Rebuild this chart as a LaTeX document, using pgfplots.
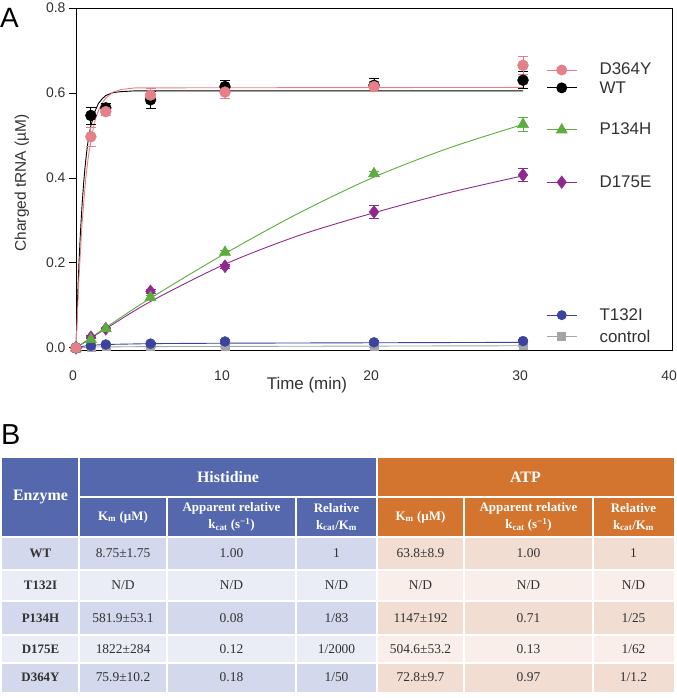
\documentclass[border=0pt]{standalone}
\usepackage{fontspec}
\setmainfont{Liberation Sans}
\newfontfamily\tnr{Liberation Serif}
\usepackage{pgfplots}
\pgfplotsset{compat=1.18}
\definecolor{cpink}{RGB}{229,128,138}
\definecolor{cgreen}{RGB}{92,172,62}
\definecolor{cpurple}{RGB}{142,42,142}
\definecolor{cblue}{RGB}{58,68,158}
\definecolor{cgray}{RGB}{165,165,165}
\definecolor{hblue}{RGB}{85,104,174}
\definecolor{horange}{RGB}{211,117,47}
\definecolor{bD}{RGB}{212,216,236}
\definecolor{bL}{RGB}{234,236,246}
\definecolor{oD}{RGB}{242,221,211}
\definecolor{oL}{RGB}{249,238,234}
\definecolor{tgray}{RGB}{50,50,50}
\pgfplotsset{
  dat/.style={only marks, color=#1, mark options={solid, fill=#1, draw=#1},
    error bars/y dir=both, error bars/y explicit,
    error bars/error bar style={line width=0.9bp, color=#1},
    error bars/error mark options={line width=0.9bp, mark size=5bp, color=#1, rotate=90}},
  fit/.style={no markers, line width=0.9bp, color=#1},
  leg/.style={line width=0.9bp, color=#1, mark indices={2}, mark options={solid, fill=#1, draw=#1}},
}
\newcommand\legf{\fontsize{17}{19}\selectfont}
\newcommand\thf{\tnr\bfseries\color{white}\fontsize{13}{17}\selectfont}
\newcommand\tdf{\tnr\color{tgray}\fontsize{13.5}{16}\selectfont}
\newcommand\tef{\tnr\bfseries\color{tgray}\fontsize{13}{16}\selectfont}
\begin{document}
\begin{tikzpicture}[x=1bp,y=1bp]
\path[use as bounding box] (0,0) rectangle (677,698);
\begin{axis}[
  at={(76bp,348bp)}, anchor=south west,
  width=596bp, height=342bp, scale only axis,
  xmin=0, xmax=40, ymin=-0.005, ymax=0.8,
  xtick={0,10,20,30,40}, ytick={0,0.2,0.4,0.6,0.8},
  ytick pos=left, tick align=outside, major tick length=7bp,
  xtick style={draw=none},
  axis line style={line width=0.9bp},
  tick style={line width=0.8bp, black},
  /pgf/number format/assume math mode=true,
  yticklabel style={/pgf/number format/fixed, /pgf/number format/fixed zerofill,
    /pgf/number format/precision=1},
  xticklabel style={yshift=-10bp, xshift=-3bp},
  tick label style={font=\fontsize{14}{16}\selectfont, color=tgray},
  clip=false,
]
% fitted curves
\addplot[fit=cgray] coordinates {(0,0)(1,0.002)(5,0.003)(30,0.005)};
\addplot[fit=cblue] coordinates {(0,0)(0.5,0.004)(1,0.006)(2,0.008)(5,0.01)(10,0.011)(20,0.012)(30,0.013)};
\addplot[fit=cpurple, smooth] coordinates {(0,0)(1,0.023)(2,0.045)(5,0.109)(10,0.197)(15,0.265)(20,0.318)(25,0.365)(30,0.405)};
\addplot[fit=cgreen, smooth] coordinates {(0,0)(1,0.024)(2,0.048)(5,0.117)(10,0.222)(15,0.318)(20,0.402)(25,0.47)(30,0.526)};
\addplot[fit=black] coordinates {(0,0)(0.1,0.111)(0.2,0.2)(0.3,0.273)(0.4,0.332)(0.5,0.382)(0.6,0.423)(0.7,0.456)(0.8,0.484)(0.9,0.505)(1,0.523)(1.25,0.555)(1.5,0.575)(1.75,0.586)(2,0.594)(2.5,0.601)(3,0.603)(4,0.605)(30,0.605)};
\addplot[fit=cpink] coordinates {(0,0)(0.2,0.167)(0.4,0.289)(0.6,0.378)(0.7,0.412)(0.8,0.442)(0.9,0.467)(1,0.489)(1.25,0.532)(1.5,0.558)(1.75,0.576)(2,0.588)(2.5,0.602)(3,0.608)(4,0.612)(30,0.613)};
% data
\addplot[dat=cgray, mark=square*, mark size=4bp] table[x=t, y=v, y error=e] {
t v e
0 0 0
1 0.002 0.003
2 0.003 0.003
5 0.003 0.003
10 0.004 0.003
20 0.004 0.003
30 0.006 0.003
};
\addplot[dat=cblue, mark=*, mark size=5bp] table[x=t, y=v, y error=e] {
t v e
0 0 0
1 0.005 0.003
2 0.008 0.003
5 0.01 0.003
10 0.015 0.004
20 0.013 0.004
30 0.016 0.004
};
\addplot[dat=cpurple, mark=diamond*, mark size=6.5bp] table[x=t, y=v, y error=e] {
t v e
0 0 0
1 0.025 0.004
2 0.045 0.004
5 0.133 0.005
10 0.192 0.005
20 0.32 0.015
30 0.407 0.015
};
\addplot[dat=cgreen, mark=triangle*, mark size=6.5bp] table[x=t, y=v, y error=e] {
t v e
0 0 0
1 0.02 0.004
2 0.045 0.004
5 0.119 0.005
10 0.225 0.005
20 0.41 0.006
30 0.526 0.017
};
\addplot[dat=black, mark=*, mark size=5.5bp] table[x=t, y=v, y error=e] {
t v e
0 0 0
1 0.547 0.02
2 0.565 0.01
5 0.584 0.02
10 0.615 0.015
20 0.618 0.015
30 0.63 0.02
};
\addplot[dat=cpink, mark=*, mark size=5.5bp] table[x=t, y=v, y error=e] {
t v e
0 0 0
1 0.497 0.022
2 0.556 0.008
5 0.595 0.015
10 0.602 0.015
20 0.615 0.012
30 0.665 0.022
};
% legend
\addplot[leg=cpink, mark=*, mark size=5bp] coordinates {(31.6,0.654)(32.6,0.654)(33.6,0.654)};
\addplot[leg=black, mark=*, mark size=5bp] coordinates {(31.6,0.612)(32.6,0.612)(33.6,0.612)};
\addplot[leg=cgreen, mark=triangle*, mark size=6bp] coordinates {(31.6,0.513)(32.6,0.513)(33.6,0.513)};
\addplot[leg=cpurple, mark=diamond*, mark size=6bp] coordinates {(31.6,0.39)(32.6,0.39)(33.6,0.39)};
\addplot[leg=cblue, mark=*, mark size=4.5bp] coordinates {(31.6,0.077)(32.6,0.077)(33.6,0.077)};
\addplot[leg=cgray, mark=square*, mark size=4bp] coordinates {(31.6,0.026)(32.6,0.026)(33.6,0.026)};
\node[anchor=west, font=\legf, text=tgray] at (axis cs:34.9,0.656) {D364Y};
\node[anchor=west, font=\legf, text=tgray] at (axis cs:34.9,0.612) {WT};
\node[anchor=west, font=\legf, text=tgray] at (axis cs:34.9,0.516) {P134H};
\node[anchor=west, font=\legf, text=tgray] at (axis cs:34.9,0.392) {D175E};
\node[anchor=west, font=\legf, text=tgray] at (axis cs:34.9,0.079) {T132I};
\node[anchor=west, font=\legf, text=tgray] at (axis cs:34.9,0.028) {control};
\end{axis}
% axis titles and panel letters
\node[font=\fontsize{17}{19}\selectfont, text=tgray] at (307,313) {Time (min)};
\node[rotate=90, font=\fontsize{15.5}{18}\selectfont, text=tgray] at (22,515) {Charged tRNA (µM)};
\node[anchor=base west, inner sep=0, font=\fontsize{28}{30}\selectfont] at (0,670) {A};
\node[anchor=base west, inner sep=0, font=\fontsize{29}{31}\selectfont] at (1,253) {B};
% table panel B
\fill[hblue] (2,161) rectangle (377,240);
\fill[horange] (377,161) rectangle (674,240);
\fill[bD] (2,128) rectangle (377,161); \fill[oD] (377,128) rectangle (674,161);
\fill[bL] (2,97) rectangle (377,128);  \fill[oL] (377,97) rectangle (674,128);
\fill[bD] (2,63) rectangle (377,97);   \fill[oD] (377,63) rectangle (674,97);
\fill[bL] (2,35) rectangle (377,63);   \fill[oL] (377,35) rectangle (674,63);
\fill[bD] (2,6) rectangle (377,35);    \fill[oD] (377,6) rectangle (674,35);
\begin{scope}[white, line width=1.6bp]
\draw (79,6) -- (79,240);
\draw (377,6) -- (377,240);
\foreach \c in {167,296,464,593} \draw (\c,6) -- (\c,201);
\draw (79,201) -- (674,201);
\foreach \r in {161,128,97,63,35} \draw (2,\r) -- (674,\r);
\end{scope}
\node[font=\tnr\bfseries\fontsize{16}{18}\selectfont, text=white] at (40.5,200.5) {Enzyme};
\node[font=\tnr\bfseries\fontsize{16}{18}\selectfont, text=white] at (228,220.5) {Histidine};
\node[font=\tnr\bfseries\fontsize{16}{18}\selectfont, text=white] at (525.5,220.5) {ATP};
\foreach \xc in {123,420.5} \node[font=\thf] at (\xc,181) {K\textsubscript{m} (µM)};
\foreach \xc in {231.5,528.5} \node[font=\thf, align=center] at (\xc,181) {Apparent relative\\k\textsubscript{cat} (s\textsuperscript{−1})};
\foreach \xc in {336.5,633.5} \node[font=\thf, align=center] at (\xc,181) {Relative\\k\textsubscript{cat}/K\textsubscript{m}};
\foreach \yc/\n/\a/\b/\c/\d/\e/\f in {
  144.5/WT/8.75±1.75/1.00/1/63.8±8.9/1.00/1,
  112.5/T132I/N\slash D/N\slash D/N\slash D/N\slash D/N\slash D/N\slash D,
  80/P134H/581.9±53.1/0.08/1\slash 83/1147±192/0.71/1\slash 25,
  49/D175E/1822±284/0.12/1\slash 2000/504.6±53.2/0.13/1\slash 62,
  20.5/D364Y/75.9±10.2/0.18/1\slash 50/72.8±9.7/0.97/1\slash 1.2}{
  \node[font=\tef] at (40.5,\yc) {\n};
  \node[font=\tdf] at (123,\yc) {\a};
  \node[font=\tdf] at (231.5,\yc) {\b};
  \node[font=\tdf] at (336.5,\yc) {\c};
  \node[font=\tdf] at (420.5,\yc) {\d};
  \node[font=\tdf] at (528.5,\yc) {\e};
  \node[font=\tdf] at (633.5,\yc) {\f};
}
\end{tikzpicture}
\end{document}
